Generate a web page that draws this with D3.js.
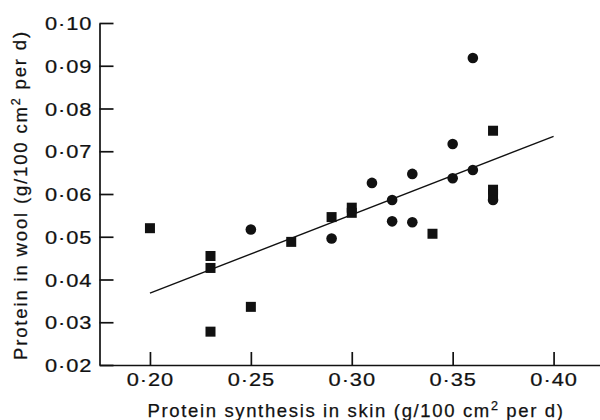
<!DOCTYPE html>
<html><head><meta charset="utf-8">
<script src="https://cdn.jsdelivr.net/npm/d3@7/dist/d3.min.js"></script>
<style>
html,body{margin:0;padding:0;background:#fff;}
text{font-family:"Liberation Sans",Arial,Helvetica,sans-serif;fill:#111;}
</style></head><body>
<svg id="c" width="600" height="420"></svg>
<script>
// Data
const squareX = [0.20, 0.23, 0.23, 0.23, 0.25, 0.27, 0.29, 0.30, 0.30, 0.34, 0.37, 0.37, 0.37];
const squareY = [0.052, 0.0455, 0.0427, 0.0278, 0.0336, 0.0488, 0.0546, 0.0568, 0.0556, 0.0507, 0.0748, 0.0610, 0.0600];
const circleX = [0.25, 0.29, 0.31, 0.32, 0.32, 0.33, 0.33, 0.35, 0.35, 0.36, 0.36, 0.37];
const circleY = [0.0517, 0.0496, 0.0626, 0.0586, 0.0536, 0.0647, 0.0534, 0.0717, 0.0637, 0.0918, 0.0656, 0.0586];
const lineX = [0.20, 0.40];
const lineY = [0.0368, 0.0735];
const xTicks = [0.20, 0.25, 0.30, 0.35, 0.40];
const yTicks = [0.02, 0.03, 0.04, 0.05, 0.06, 0.07, 0.08, 0.09, 0.10];

const svg = d3.select("#c");
const x = d3.scaleLinear().domain([0.175, 0.423]).range([99.5, 600]);
const y = d3.scaleLinear().domain([0.02, 0.10]).range([365, 23]);
const fmt = v => d3.format(".2f")(v).replace(".", "·");
const FS = 18.5;

// Y axis
const gy = svg.append("g").attr("transform", "translate(99.5,0)")
  .call(d3.axisLeft(y).tickValues(yTicks).tickFormat(fmt).tickSizeInner(-14).tickSizeOuter(0).tickPadding(6));
gy.select(".domain").attr("stroke", "#111").attr("stroke-width", 1.7);
gy.selectAll(".tick line").attr("stroke", "#111").attr("stroke-width", 1.7);
gy.selectAll(".tick text").attr("font-size", FS).attr("letter-spacing", "0.8px").attr("dy", "0.36em")
  .attr("transform", "scale(1.18,1)").attr("stroke", "#111").attr("stroke-width", 0.25)
  .style("font-family", '"Liberation Sans",Arial,sans-serif').attr("fill", "#111");

// X axis
const gx = svg.append("g").attr("transform", "translate(0,365)")
  .call(d3.axisBottom(x).tickValues(xTicks).tickFormat(fmt).tickSizeInner(-13).tickSizeOuter(0).tickPadding(8));
gx.select(".domain").attr("stroke", "#111").attr("stroke-width", 1.7);
gx.selectAll(".tick line").attr("stroke", "#111").attr("stroke-width", 1.7);
gx.selectAll(".tick text").attr("font-size", FS).attr("letter-spacing", "0.8px")
  .attr("transform", "scale(1.18,1)").attr("stroke", "#111").attr("stroke-width", 0.25)
  .style("font-family", '"Liberation Sans",Arial,sans-serif').attr("fill", "#111");

// regression line
svg.append("path")
  .attr("d", d3.line()(lineX.map((v, i) => [x(v), y(lineY[i])])))
  .attr("stroke", "#111").attr("stroke-width", 1.4).attr("fill", "none");

// squares
const sq = 10;
svg.append("g").selectAll("rect").data(squareX).join("rect")
  .attr("x", (d, i) => x(d) - sq / 2).attr("y", (d, i) => y(squareY[i]) - sq / 2)
  .attr("width", sq).attr("height", sq).attr("fill", "#111");

// circles
svg.append("g").selectAll("circle").data(circleX).join("circle")
  .attr("cx", d => x(d)).attr("cy", (d, i) => y(circleY[i])).attr("r", 5.3).attr("fill", "#111");

// axis titles
function title(sel, a, b, target) {
  sel.append("tspan").text(a);
  sel.append("tspan").attr("font-size", "0.68em").attr("dy", "-0.55em").text("2");
  sel.append("tspan").attr("dy", "0.37em").text(b);
  const w = sel.node().getComputedTextLength();
  const n = (a + "2" + b).length;
  sel.attr("letter-spacing", ((target - w) / n) + "px");
}
const xt = svg.append("text").attr("x", 356).attr("y", 417).attr("text-anchor", "middle")
  .attr("font-size", FS).attr("stroke", "#111").attr("stroke-width", 0.25);
title(xt, "Protein synthesis in skin (g/100 cm", " per d)", 417);

const yt = svg.append("text").attr("transform", "translate(26.5,195) rotate(-90)").attr("text-anchor", "middle")
  .attr("font-size", FS).attr("stroke", "#111").attr("stroke-width", 0.25);
title(yt, "Protein in wool (g/100 cm", " per d)", 330);
</script>
</body></html>
